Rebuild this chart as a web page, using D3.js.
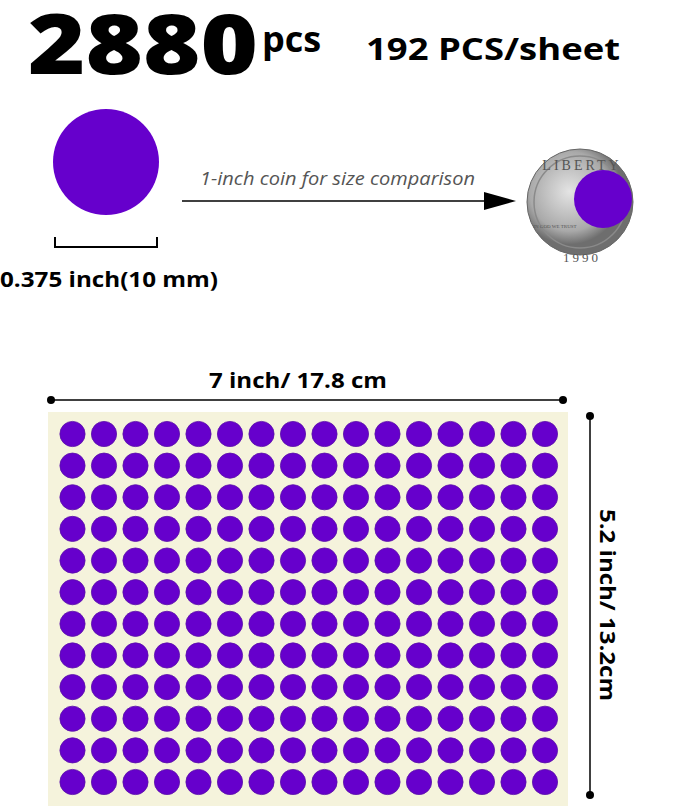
<!DOCTYPE html><html><head><meta charset="utf-8"><script src="https://cdn.jsdelivr.net/npm/d3@7"></script>
<style>body{margin:0;background:#fff}</style></head><body><script>
const cols = d3.range(16);
const rows = d3.range(12);
const totalCount = "2880", perSheet = "192 PCS/sheet";
const W=679,H=806, purple="#6600cc";
const svg=d3.select("body").append("svg").attr("width",W).attr("height",H);
const F="'Open Sans',Lato,sans-serif";
function t(x,y,s,opts){const e=svg.append("text").attr("x",x).attr("y",y).attr("font-family",F).text(s);for(const k in opts)e.attr(k,opts[k]);return e;}
t(28,74,totalCount,{"font-weight":800,"font-size":84,textLength:230,lengthAdjust:"spacingAndGlyphs"});
t(262,52,"pcs",{"font-weight":700,"font-size":36});
t(366,60,perSheet,{"font-weight":700,"font-size":31,textLength:254,lengthAdjust:"spacingAndGlyphs"});
svg.append("circle").attr("cx",106).attr("cy",162).attr("r",53).attr("fill",purple);
svg.append("path").attr("d","M55,237V247H157V237").attr("fill","none").attr("stroke","#000").attr("stroke-width",2);
t(0,287,"0.375 inch(10 mm)",{"font-weight":700,"font-size":21,textLength:218,lengthAdjust:"spacingAndGlyphs"});
svg.append("line").attr("x1",182).attr("x2",488).attr("y1",201).attr("y2",201).attr("stroke","#000").attr("stroke-width",1.5);
svg.append("path").attr("d","M484,192L516,201L484,210Z").attr("fill","#000");
t(200,185,"1-inch coin for size comparison",{"font-style":"italic","font-size":18,fill:"#555",textLength:275,lengthAdjust:"spacingAndGlyphs"});
const g=svg.append("defs").append("radialGradient").attr("id","cg").attr("cx","40%").attr("cy","40%");
g.append("stop").attr("offset","0%").attr("stop-color","#e4e4e4");
g.append("stop").attr("offset","75%").attr("stop-color","#a9a9a9");
g.append("stop").attr("offset","100%").attr("stop-color","#6e6e6e");
svg.append("circle").attr("cx",580).attr("cy",202).attr("r",53).attr("fill","url(#cg)").attr("stroke","#666");
svg.append("circle").attr("cx",580).attr("cy",202).attr("r",46).attr("fill","none").attr("stroke","#8a8a8a").attr("stroke-width",1.5);
svg.append("text").attr("x",582).attr("y",170).attr("text-anchor","middle").attr("font-family","serif").attr("font-size",14).attr("fill","#555").attr("letter-spacing",3).text("LIBERTY");
svg.append("text").attr("x",582).attr("y",262).attr("text-anchor","middle").attr("font-family","serif").attr("font-size",13).attr("fill","#555").attr("letter-spacing",3).text("1990");
svg.append("text").attr("x",555).attr("y",228).attr("text-anchor","middle").attr("font-family","serif").attr("font-size",5).attr("fill","#555").text("IN GOD WE TRUST");
svg.append("circle").attr("cx",603).attr("cy",199).attr("r",29).attr("fill",purple);
svg.append("rect").attr("x",48).attr("y",412).attr("width",520).attr("height",394).attr("fill","#f5f3dc");
const x=d3.scaleLinear().domain([0,15]).range([72.5,545]);
const y=d3.scaleLinear().domain([0,11]).range([434,782]);
const cells=rows.flatMap(r=>cols.map(c=>({r,c})));
svg.selectAll(".d").data(cells).join("circle").attr("cx",d=>x(d.c)).attr("cy",d=>y(d.r)).attr("r",12.6).attr("fill",purple).attr("stroke","#5a10a8").attr("stroke-width",0.8);
svg.append("line").attr("x1",51).attr("x2",563).attr("y1",400).attr("y2",400).attr("stroke","#000").attr("stroke-width",1.5);
svg.append("circle").attr("cx",51).attr("cy",400).attr("r",4);
svg.append("circle").attr("cx",563).attr("cy",400).attr("r",4);
t(298,388,"7 inch/ 17.8 cm",{"text-anchor":"middle","font-weight":700,"font-size":21,textLength:178,lengthAdjust:"spacingAndGlyphs"});
svg.append("line").attr("x1",590).attr("x2",590).attr("y1",416).attr("y2",795).attr("stroke","#000").attr("stroke-width",1.5);
svg.append("circle").attr("cx",590).attr("cy",416).attr("r",4);
svg.append("circle").attr("cx",590).attr("cy",795).attr("r",4);
svg.append("text").attr("transform","translate(600,605) rotate(90)").attr("text-anchor","middle").attr("font-family",F).attr("font-weight",700).attr("font-size",21).attr("textLength",192).attr("lengthAdjust","spacingAndGlyphs").text("5.2 inch/ 13.2cm");
</script></body></html>
